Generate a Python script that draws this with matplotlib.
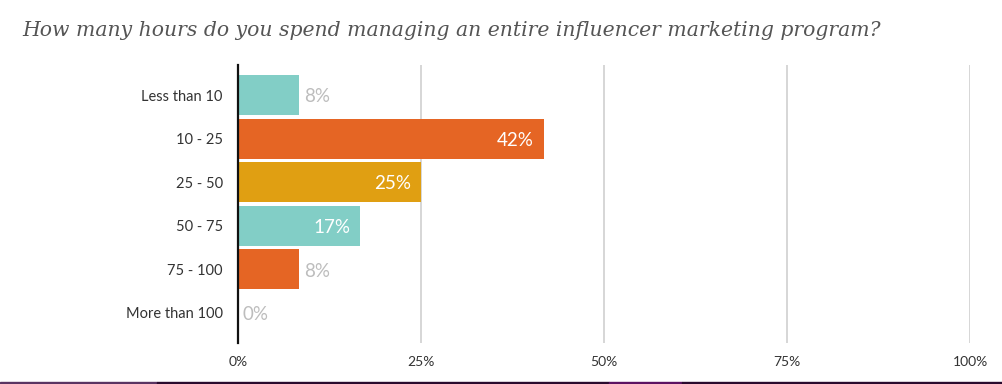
import matplotlib
matplotlib.use("Agg")
import matplotlib.pyplot as plt
from matplotlib.patches import Rectangle

plt.rcParams['font.family'] = ['Lato', 'DejaVu Sans']

# Survey data
categories = ["Less than 10", "10 - 25", "25 - 50", "50 - 75", "75 - 100", "More than 100"]
values = [8.4, 41.8, 25.0, 16.7, 8.4, 0.0]
labels = ["8%", "42%", "25%", "17%", "8%", "0%"]
colors = ["#82CEC6", "#E56524", "#E09F12", "#82CEC6", "#E56524", "#82CEC6"]
inside = [False, True, True, True, False, False]
xticks = [0, 25, 50, 75, 100]
xtick_labels = ["0%", "25%", "50%", "75%", "100%"]
title = "How many hours do you spend managing an entire influencer marketing program?"

W, H = 1003, 384
fig = plt.figure(figsize=(W / 100, H / 100), dpi=100)
ax = fig.add_axes([238 / W, 1 - 343 / H, (970 - 238) / W, (343 - 65) / H])

ypos = list(range(len(categories)))
ax.barh(ypos, values, height=0.92, color=colors, zorder=2)
ax.set_ylim(len(categories) - 0.31, -0.69)
ax.set_xlim(0, 100)

for y, v, lab, ins in zip(ypos, values, labels, inside):
    if ins:
        ax.text(v - 1.4, y + 0.04, lab, ha="right", va="center", color="white", fontsize=13.5, zorder=3)
    else:
        ax.text(v + 0.6, y + 0.04, lab, ha="left", va="center", color="#BDBDBD", fontsize=13.5, zorder=3)

ax.set_yticks(ypos)
ax.set_yticklabels(categories, fontsize=10.5, color="#333333")
ax.set_xticks(xticks)
ax.set_xticklabels(xtick_labels, fontsize=10, color="#333333")
ax.tick_params(axis="both", length=0)
ax.tick_params(axis="y", pad=11)
ax.tick_params(axis="x", pad=9)

for x in xticks[1:]:
    ax.axvline(x, color="#D0D0D0", lw=1.2, zorder=1)
for s in ["top", "right", "bottom"]:
    ax.spines[s].set_visible(False)
ax.spines["left"].set_color("#111111")
ax.spines["left"].set_linewidth(1.6)

fig.text(22 / W, 1 - 31 / H, title, ha="left", va="center", fontsize=14.7,
         style="italic", family="DejaVu Serif", color="#555555")

# purple strip along the bottom
for x0, x1, c in [(0, 157, "#5A3462"), (157, 609, "#2A0A2E"), (609, 682, "#5C1262"), (682, W, "#2A0A2E")]:
    fig.patches.append(Rectangle((x0 / W, 0), (x1 - x0) / W, 2.5 / H, transform=fig.transFigure,
                                 color=c, zorder=5))

fig.savefig("out.png", dpi=100)
